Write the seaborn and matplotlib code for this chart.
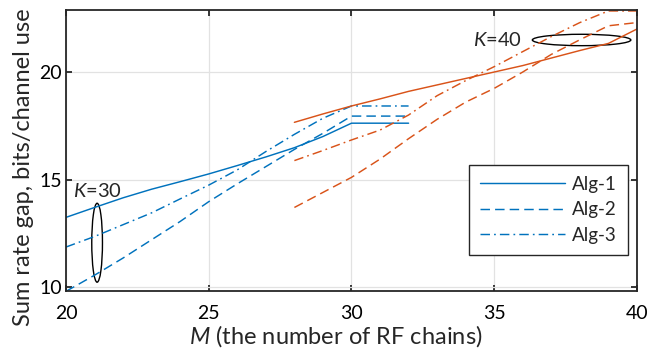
import numpy as np
import pandas as pd
import seaborn as sns
import matplotlib
matplotlib.use("Agg")
import matplotlib.pyplot as plt
from matplotlib.patches import Ellipse

# ---- data ----
M_k30 = [20, 21, 22, 23, 24, 25, 26, 27, 28, 29, 30, 31, 32]
alg1_k30 = [13.24, 13.7, 14.15, 14.55, 14.9, 15.26, 15.65, 16.05, 16.48, 17.0, 17.62, 17.62, 17.62]
alg2_k30 = [9.8, 10.55, 11.35, 12.2, 13.05, 13.97, 14.8, 15.6, 16.4, 17.15, 17.95, 17.95, 17.95]
alg3_k30 = [11.86, 12.35, 12.9, 13.45, 14.1, 14.74, 15.45, 16.3, 17.1, 17.85, 18.42, 18.42, 18.42]

M_k40 = [28, 29, 30, 31, 32, 33, 34, 35, 36, 37, 38, 39, 40]
alg1_k40 = [17.66, 18.05, 18.42, 18.75, 19.1, 19.4, 19.7, 20.0, 20.3, 20.65, 21.0, 21.33, 22.0]
alg2_k40 = [13.7, 14.4, 15.1, 15.95, 16.9, 17.8, 18.6, 19.24, 20.0, 20.82, 21.5, 22.15, 22.3]
alg3_k40 = [15.88, 16.35, 16.84, 17.3, 18.0, 18.9, 19.6, 20.25, 20.95, 21.65, 22.3, 22.84, 22.84]

alg_names = ["Alg-1", "Alg-2", "Alg-3"]
x_ticks = [20, 25, 30, 35, 40]
y_ticks = [10, 15, 20]

BLUE = "#0072BD"
ORANGE = "#D95319"
DARK = "#262626"

sns.set_style("ticks")
plt.rcParams["font.family"] = ["Lato", "DejaVu Sans"]
plt.rcParams["mathtext.fontset"] = "custom"
plt.rcParams["mathtext.it"] = "Lato:italic"
plt.rcParams["mathtext.rm"] = "Lato"

fig = plt.figure(figsize=(6.47, 3.48), dpi=100)
ax = fig.add_axes([0.102, 0.1647, 0.8825, 0.8063])

styles = {
    "Alg-1": "-",
    "Alg-2": (0, (6.5, 3.5)),
    "Alg-3": (0, (6.5, 2.8, 1.2, 2.8)),
}

rows = []
for K, Ms, series in [(30, M_k30, [alg1_k30, alg2_k30, alg3_k30]),
                      (40, M_k40, [alg1_k40, alg2_k40, alg3_k40])]:
    for name, vals in zip(alg_names, series):
        for m, v in zip(Ms, vals):
            rows.append({"M": m, "gap": v, "alg": name, "K": K})
df = pd.DataFrame(rows)

handles = []
for K, color in [(30, BLUE), (40, ORANGE)]:
    for name in alg_names:
        sub = df[(df.K == K) & (df.alg == name)]
        sns.lineplot(data=sub, x="M", y="gap", ax=ax, color=color, lw=1.05,
                     linestyle=styles[name], estimator=None, sort=True,
                     legend=False)
        ln = ax.lines[-1]
        if K == 30:
            ln.set_label(name)
            handles.append(ln)

ax.set_xlim(20, 40)
ax.set_ylim(9.83, 22.88)
ax.set_xticks(x_ticks)
ax.set_yticks(y_ticks)
ax.grid(True, color="#e2e2e2", lw=0.9)
ax.set_axisbelow(True)
for s in ax.spines.values():
    s.set_color(DARK)
    s.set_linewidth(1.3)
    s.set_visible(True)
ax.tick_params(direction="in", length=4, width=1.3, color=DARK,
               top=True, right=True, labelsize=14, labelcolor="black")
ax.tick_params(axis="x", pad=10)
ax.tick_params(axis="y", pad=3)

ax.set_xlabel("$M$ (the number of RF chains)", fontsize=17)
ax.set_ylabel("Sum rate gap, bits/channel use", fontsize=17)
ax.xaxis.set_label_coords(0.473, -0.114)
ax.yaxis.set_label_coords(-0.056, 0.439)

# annotations
ax.add_patch(Ellipse((21.09, 12.06), 0.375, 3.67, fill=False, ec="black", lw=1.0))
ax.text(20.23, 14.45, "$K$=30", fontsize=14.5, va="center", ha="left")
ax.add_patch(Ellipse((38.06, 21.49), 3.45, 0.53, fill=False, ec="black", lw=1.0))
ax.text(35.1, 21.49, "$K$=40", fontsize=14.5, va="center", ha="center")

leg = ax.legend(handles=handles, loc="lower left", bbox_to_anchor=(0.706, 0.127),
                fontsize=13.5, frameon=True, fancybox=False, edgecolor=DARK,
                framealpha=1, handlelength=4.5, handletextpad=0.4,
                labelspacing=0.45, borderpad=0.6, borderaxespad=0)
leg.get_frame().set_linewidth(1.0)

fig.savefig("out.png", dpi=100)
